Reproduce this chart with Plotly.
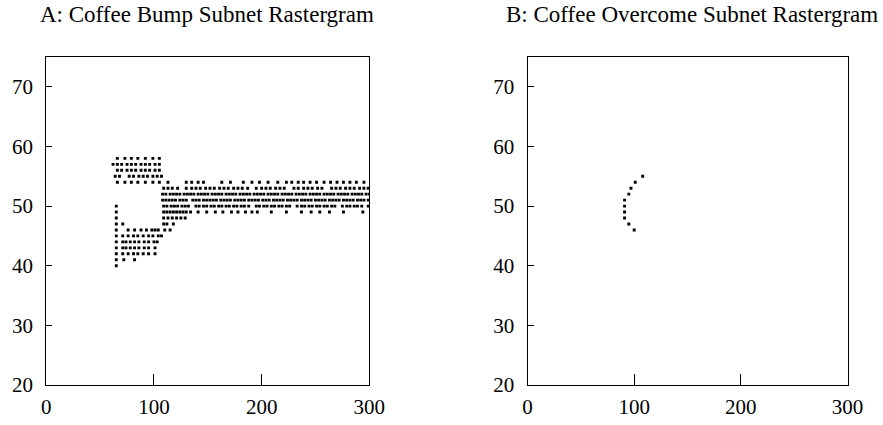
import plotly.graph_objects as go

# ---------------- data: spike times (ms) per neuron, panel A ----------------
A58 = [66, 73, 79, 85, 92, 99, 105]
A57 = [62, 66, 70, 75, 79, 83, 88, 92, 96, 101, 105]
A56 = [66, 70, 75, 79, 83, 88, 92, 96, 101, 105]
A55 = [64, 68, 77, 81, 86, 90, 94, 99, 103, 107]
A54 = [66, 73, 79, 85, 92, 99, 105, 113, 130, 135, 141, 146, 163, 171, 183, 191,
       198, 206, 215, 223, 228, 234, 239, 245, 251, 258, 264, 270, 276, 282, 288, 295]
A53 = [109, 113, 117, 122, 130, 135, 139, 143, 148, 152, 156, 161, 165, 169, 174,
       178, 182, 187, 195, 200, 204, 208, 213, 217, 221, 230, 234, 239, 243, 247,
       252, 256, 265, 269, 273, 278, 282, 286, 291, 295, 299]
A52 = [108, 111, 115, 118, 121, 124, 128, 131, 134, 137, 141, 144, 147, 150, 154,
       157, 160, 163, 167, 170, 173, 176, 180, 183, 186, 189, 193, 196, 199, 202,
       206, 209, 212, 215, 219, 222, 225, 228, 232, 235, 238, 241, 245, 248, 251,
       254, 258, 261, 264, 267, 271, 274, 277, 280, 284, 287, 290, 293, 297, 300]
A51 = [108, 111, 114, 117, 120, 124, 127, 130, 136, 139, 142, 146, 149, 152, 155,
       158, 162, 165, 168, 171, 175, 178, 181, 184, 188, 191, 194, 197, 201, 204,
       207, 211, 214, 217, 220, 224, 227, 230, 233, 237, 240, 243, 246, 250, 253,
       256, 259, 263, 266, 269, 272, 276, 279, 282, 285, 289, 292, 295, 299]
A50 = [65, 109, 112, 116, 119, 122, 126, 129, 132, 139, 142, 146, 149, 153, 156,
       160, 163, 167, 170, 174, 177, 181, 184, 188, 195, 198, 202, 205, 209, 212,
       216, 219, 223, 226, 233, 237, 240, 244, 247, 251, 254, 258, 261, 265, 268,
       275, 279, 282, 286, 289, 293, 299]
A49 = [65, 109, 112, 115, 118, 121, 124, 127, 130, 134, 141, 149, 157, 164, 172,
       178, 185, 191, 196, 209, 223, 237, 246, 254, 263, 276, 294]
A48 = [65, 109, 113, 117, 121, 125, 129]
A47 = [65, 71, 109, 112, 118]
A46 = [65, 76, 82, 88, 93, 98, 101, 104, 110, 115]
A45 = [65, 71, 76, 81, 85, 90, 95, 99, 104, 107]
A44 = [65, 71, 74, 78, 82, 86, 91, 95, 100, 103]
A43 = [65, 71, 74, 78, 82, 86, 91, 95, 101]
A42 = [65, 71, 76, 81, 85, 90, 95, 101]
A41 = [65, 72, 82]
A40 = [65]

A_ROWS = {58: A58, 57: A57, 56: A56, 55: A55, 54: A54, 53: A53, 52: A52, 51: A51,
          50: A50, 49: A49, 48: A48, 47: A47, 46: A46, 45: A45, 44: A44, 43: A43,
          42: A42, 41: A41, 40: A40}

# ---------------- data: panel B ----------------
B_TIMES = [108, 101, 97, 95, 91, 91, 91, 91, 95, 100]
B_NEURONS = [55, 54, 53, 52, 51, 50, 49, 48, 47, 46]

X_TICKS = [0, 100, 200, 300]
Y_TICKS = [20, 30, 40, 50, 60, 70]
TITLE_A = "A: Coffee Bump Subnet Rastergram"
TITLE_B = "B: Coffee Overcome Subnet Rastergram"

ax, ay = [], []
for n, times in A_ROWS.items():
    for t in times:
        ax.append(t)
        ay.append(n)

FONT = "Liberation Serif, Times New Roman, serif"

fig = go.Figure()
marker = dict(symbol="square", size=2.9, color="black", line=dict(width=0))
fig.add_trace(go.Scatter(x=ax, y=ay, mode="markers", marker=marker,
                         xaxis="x", yaxis="y", showlegend=False))
fig.add_trace(go.Scatter(x=B_TIMES, y=B_NEURONS, mode="markers", marker=marker,
                         xaxis="x2", yaxis="y2", showlegend=False))

# the page's body margin is removed (post_script below), so the figure fills the window
W, H = 883, 425
def px_x(p):
    return p / W
def px_y(p):
    return (H - p) / H

ydom = [px_y(385), px_y(57)]
dA = [px_x(46.3), px_x(369.3)]
dB = [px_x(527.5), px_x(847.5)]

common_x = dict(range=[0, 300], tickvals=X_TICKS, ticks="inside", ticklen=11,
                tickwidth=1, tickcolor="black", showline=True, linecolor="black",
                linewidth=1.3, mirror=True, showgrid=False, zeroline=False,
                automargin=False,
                tickfont=dict(family=FONT, size=21, color="black"),
                ticklabelstandoff=3)
common_y = dict(range=[20, 75], tickvals=Y_TICKS, ticks="inside", ticklen=6,
                tickwidth=1, tickcolor="black", showline=True, linecolor="black",
                linewidth=1.3, mirror=True, showgrid=False, zeroline=False,
                automargin=False,
                tickfont=dict(family=FONT, size=21, color="black"),
                ticklabelstandoff=8)

fig.update_layout(
    template="none",
    width=W, height=H,
    margin=dict(l=0, r=0, t=0, b=0, pad=0),
    paper_bgcolor="white", plot_bgcolor="white",
    xaxis=dict(domain=dA, anchor="y", **common_x),
    yaxis=dict(domain=ydom, anchor="x", **common_y),
    xaxis2=dict(domain=dB, anchor="y2", **common_x),
    yaxis2=dict(domain=ydom, anchor="x2", **common_y),
    annotations=[
        dict(text=TITLE_A, x=px_x(207), y=px_y(15), xref="paper",
             yref="paper", xanchor="center", yanchor="middle", showarrow=False,
             font=dict(family=FONT, size=23, color="black")),
        dict(text=TITLE_B, x=px_x(880), y=px_y(15), xref="paper",
             yref="paper", xanchor="right", yanchor="middle", showarrow=False,
             font=dict(family=FONT, size=23, color="black")),
    ],
)

fig.write_html("out.html", config={"displayModeBar": False},
               post_script="document.body.style.margin='0px';")
